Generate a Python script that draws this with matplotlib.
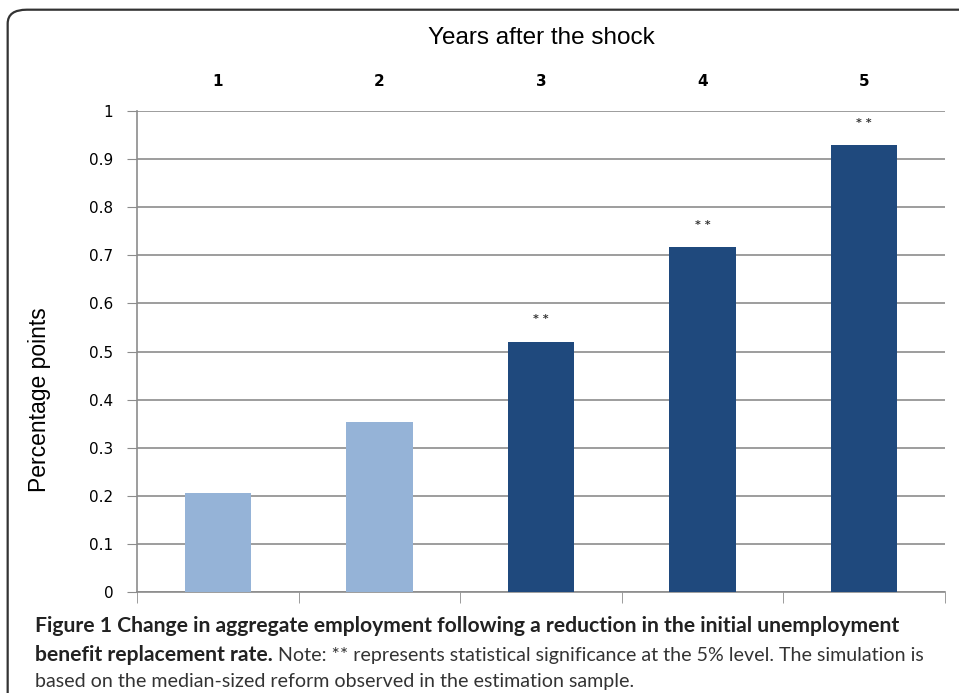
import matplotlib.pyplot as plt
from matplotlib.patches import FancyBboxPatch

years = ['1', '2', '3', '4', '5']
values = [0.206, 0.353, 0.520, 0.717, 0.929]
significant = [False, False, True, True, True]
light = '#95b3d7'
dark = '#1f497d'

fig = plt.figure(figsize=(9.59, 6.93), dpi=100)

# rounded frame around the figure
frame = FancyBboxPatch((0.008, -0.05), 1.2, 1.036, boxstyle='round,pad=0,rounding_size=0.02',
                       transform=fig.transFigure, fill=False, edgecolor='#333333', lw=1.6)
fig.patches.append(frame)

ax = fig.add_axes([137 / 959, 1 - 592 / 693, (945 - 137) / 959, (592 - 111) / 693])
x = list(range(len(years)))
colors = [dark if s else light for s in significant]
ax.bar(x, values, width=0.41, color=colors, zorder=3)
for xi, v, s in zip(x, values, significant):
    if s:
        ax.text(xi, v + 0.047, '* *', ha='center', va='center', fontsize=8,
                color='#333333', family='DejaVu Sans', fontweight='bold')

ax.set_xlim(-0.5, 4.5)
ax.set_ylim(0, 1)
ax.set_yticks([i / 10 for i in range(11)])
ax.set_yticklabels(['0', '0.1', '0.2', '0.3', '0.4', '0.5', '0.6', '0.7', '0.8', '0.9', '1'],
                   family='DejaVu Sans', fontsize=11)
ax.yaxis.grid(True, color='#8c8c8c', lw=1.2, zorder=0)
ax.tick_params(axis='y', length=7, color='#8c8c8c', pad=10)

ax.set_xticks(x)
ax.set_xticklabels(years, family='DejaVu Sans', fontsize=11, fontweight='semibold')
ax.xaxis.tick_top()
ax.tick_params(axis='x', which='major', top=True, bottom=False, length=0, pad=16)
ax.set_xticks([i - 0.5 for i in range(6)], minor=True)
ax.tick_params(axis='x', which='minor', bottom=True, top=False, length=8, color='#8c8c8c')

for sp in ['top', 'right']:
    ax.spines[sp].set_visible(False)
for sp in ['left', 'bottom']:
    ax.spines[sp].set_color('#8c8c8c')
    ax.spines[sp].set_linewidth(1.2)

ax.set_ylabel('Percentage points', family='Liberation Sans', fontsize=16.5)
ax.yaxis.set_label_coords(-0.107, 0.40)
fig.text(541 / 959, 1 - 38 / 693, 'Years after the shock', ha='center', va='center',
         family='Liberation Sans', fontsize=17.5)

cap_font = 'Lato'
bold_size = 15.2
reg_size = 14.1
fig.text(35 / 959, 1 - 626 / 693,
         'Figure 1 Change in aggregate employment following a reduction in the initial unemployment',
         ha='left', va='center', fontsize=bold_size, fontweight='bold', family=cap_font, color='#222222')
t = fig.text(35 / 959, 1 - 655 / 693, 'benefit replacement rate.', ha='left', va='center',
             fontsize=bold_size, fontweight='bold', family=cap_font, color='#222222')
fig.canvas.draw()
bb = t.get_window_extent()
fig.text(bb.x1 / 959 + 0.005, 1 - 655 / 693,
         'Note: ** represents statistical significance at the 5% level. The simulation is',
         ha='left', va='center', fontsize=reg_size, family=cap_font, color='#333333')
fig.text(35 / 959, 1 - 681 / 693,
         'based on the median-sized reform observed in the estimation sample.',
         ha='left', va='center', fontsize=reg_size, family=cap_font, color='#333333')

fig.savefig('out.png', dpi=100)
